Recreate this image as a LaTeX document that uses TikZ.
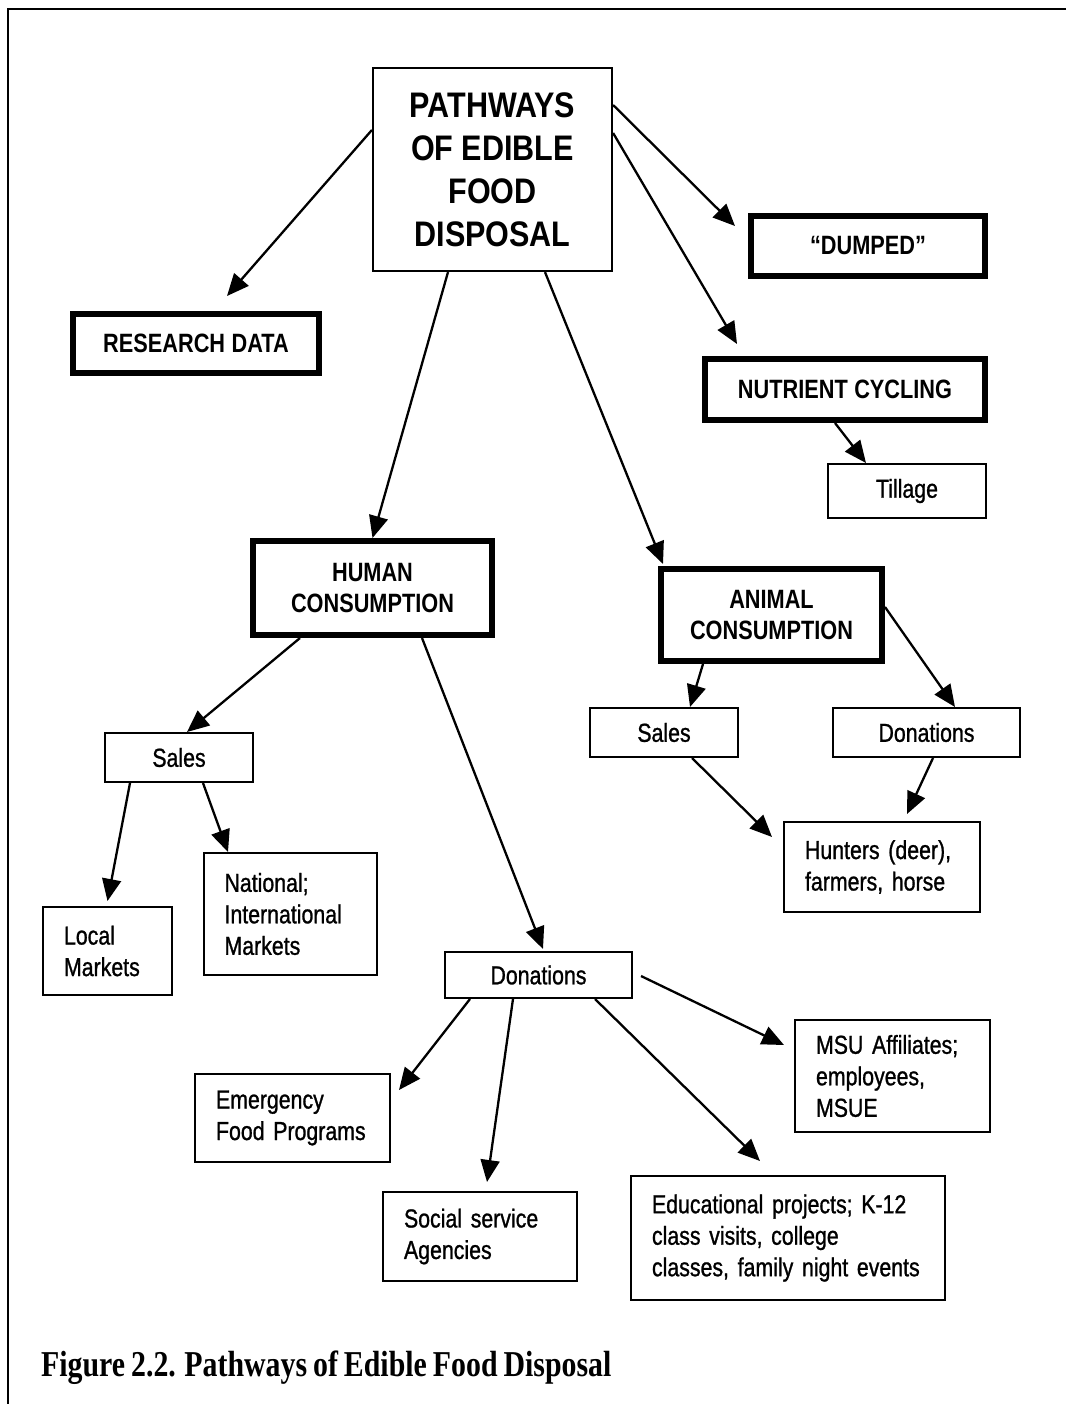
\documentclass[tikz,border=0pt]{standalone}
\usepackage{fontspec}
\setmainfont{Liberation Sans}[FakeStretch=0.82, FakeBold=1]
\newfontfamily\headfont{Liberation Sans}[FakeStretch=0.82]
\newfontfamily\bigfont{Liberation Sans}[FakeStretch=0.86]
\newfontfamily\capfont{Liberation Serif}[FakeStretch=0.82]
\newcommand\headsize{\fontsize{26.5}{31}\selectfont\spaceskip=6.5pt\relax}
\newcommand\boxsize{\fontsize{26}{31.5}\selectfont\spaceskip=6pt\relax}
\newcommand\capsize{\fontsize{36.4}{40}\selectfont\spaceskip=6pt\relax}
\usetikzlibrary{arrows.meta, calc}
\tikzset{
  every picture/.style={line width=2.3pt},
  titlebox/.style={draw, line width=2.2pt, inner sep=0pt, align=center, font=\bigfont\bfseries\fontsize{35.5}{43}\selectfont},
  heavy/.style={draw, line width=4.5pt, inner sep=0pt, align=center, font=\headfont\bfseries\headsize},
  box/.style={draw, line width=2pt, inner ysep=0pt, inner xsep=21pt, align=center, font=\boxsize},
  leftbox/.style={box, align=left},
  arrow/.style={-{Triangle[length=22pt, width=19pt]}, line width=2.3pt},
  caption/.style={font=\capfont\bfseries\capsize, inner sep=0pt},
}

\begin{document}
\begin{tikzpicture}[x=1pt, y=-1pt]
  \useasboundingbox (0,0) rectangle (1066,1404);
  \draw[line width=2.6pt] (1066,9) -- (8,9) -- (8,1404);

  \node[titlebox, minimum width=239, minimum height=203] (main) at (492.5,169.5) {PATHWAYS\\OF EDIBLE\\FOOD\\DISPOSAL};
  \node[heavy, minimum width=247.5, minimum height=60.5] (research) at (196,343.5) {RESEARCH DATA};
  \node[heavy, minimum width=235.5, minimum height=61.5] (dumped) at (868,246) {“DUMPED”};
  \node[heavy, minimum width=281.5, minimum height=62.5] (nutrient) at (845,389.5) {NUTRIENT CYCLING};
  \node[box, minimum width=158, minimum height=54] (tillage) at (907,491) {Tillage};
  \node[heavy, minimum width=240.5, minimum height=95.5] (human) at (372.5,588) {HUMAN\\CONSUMPTION};
  \node[heavy, minimum width=222.5, minimum height=93.5] (animal) at (771.5,615) {ANIMAL\\CONSUMPTION};

  % animal side
  \node[box, minimum width=148, minimum height=49] (asales) at (664,732.5) {Sales};
  \node[box, minimum width=187, minimum height=49] (adon) at (926.5,732.5) {Donations};
  \node[leftbox, text width=154, minimum height=90] (hunters) at (882,867) {Hunters (deer),\\farmers, horse};

  % human side
  \node[box, minimum width=148, minimum height=49] (hsales) at (179,757.5) {Sales};
  \node[leftbox, text width=87, minimum height=88] (local) at (107.5,951) {Local\\Markets};
  \node[leftbox, text width=131, minimum height=122] (national) at (290,914) {National;\\International\\Markets};
  \node[box, minimum width=187, minimum height=46] (hdon) at (538.5,975) {Donations};
  \node[leftbox, text width=153, minimum height=88] (emergency) at (292.5,1118) {Emergency\\Food Programs};
  \node[leftbox, text width=152, minimum height=89] (social) at (480,1236.5) {Social service\\Agencies};
  \node[leftbox, text width=272, minimum height=124] (educational) at (788,1238) {Educational projects; K-12\\class visits, college\\classes, family night events};
  \node[leftbox, text width=153, minimum height=112] (msu) at (892.5,1076) {MSU Affiliates;\\employees,\\MSUE};

  % inner line of the heavy boxes
  \foreach \n in {research, dumped, nutrient, human, animal}
    \draw[line width=1.3pt] ($(\n.north west)+(5,5)$) rectangle ($(\n.south east)-(5,5)$);

  \draw[arrow] ($(main.west)+(0,-39.5)$) -- ($(research.north)+(31,-15)$);
  \draw[arrow] ($(main.east)+(0,-64.5)$) -- ($(dumped.west)+(-13,-20)$);
  \draw[arrow] ($(main.east)+(0,-36.5)$) -- ($(nutrient.north)+(-108,-12)$);
  \draw[arrow] ($(main.south)+(-44.5,0)$) -- (human.north);
  \draw[arrow] ($(main.south)+(52.5,0)$) -- ($(animal.north)+(-108.5,-2)$);
  \draw[arrow] ($(nutrient.south)+(-10,0)$) -- ($(tillage.north)+(-41,0)$);

  \draw[arrow] ($(animal.south)+(-68.5,0)$) -- ($(asales.north)+(26,0)$);
  \draw[arrow] ($(animal.east)+(0,-8)$) -- ($(adon.north)+(28.5,0)$);
  \draw[arrow] ($(asales.south)+(28,0)$) -- ($(hunters.west)+(-11,-30)$);
  \draw[arrow] ($(adon.south)+(6.5,0)$) -- ($(hunters.north)+(25,-7)$);

  \draw[arrow] ($(human.south)+(-72.5,0)$) -- ($(hsales.north)+(8,0)$);
  \draw[arrow] ($(human.south)+(49.5,0)$) -- ($(hdon.north)+(4.5,-2)$);
  \draw[arrow] ($(hsales.south)+(-49,0)$) -- ($(local.north)+(0,-5)$);
  \draw[arrow] ($(hsales.south)+(24,0)$) -- ($(national.north)+(-62,0)$);

  \draw[arrow] ($(hdon.south)+(-68.5,0)$) -- ($(emergency.east)+(8,-28)$);
  \draw[arrow] ($(hdon.south)+(-25.5,0)$) -- ($(social.north)+(7,-9)$);
  \draw[arrow] ($(hdon.south)+(56.5,0)$) -- ($(educational.north)+(-28,-14)$);
  \draw[arrow] ($(hdon.east)+(8,1)$) -- ($(msu.west)+(-10,-31)$);

  \node[caption, anchor=base west] (cap) at (40,1376) {Figure 2.2. Pathways of Edible Food Disposal};
\end{tikzpicture}
\end{document}
